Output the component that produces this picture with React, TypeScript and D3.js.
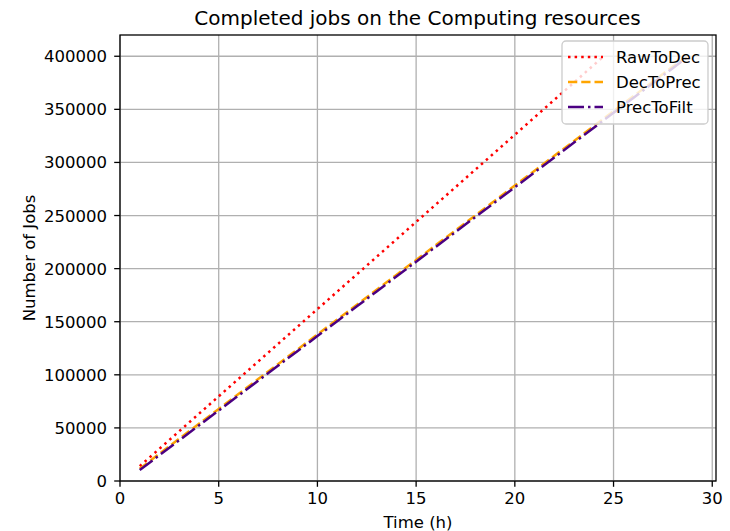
import React from "react";
import * as d3 from "d3";

const timesRaw = [1,2,3,4,5,6,7,8,9,10,11,12,13,14,15,16,17,18,19,20,21,22,23,24,24.5];
const rawToDec = [14000,30400,46850,63300,79700,96150,112550,129000,145400,161850,178250,194700,211100,227550,243950,260400,276800,293250,309650,326100,342500,358950,375350,391800,400000];

const timesPrec = [1,2,3,4,5,6,7,8,9,10,11,12,13,14,15,16,17,18,19,20,21,22,23,24,25,26,27,28,28.8];
const decToPrec = [11500,25800,39850,53900,67900,81950,95950,110000,124000,138000,152050,166050,180100,194100,208100,222150,236150,250150,264200,278200,292200,306250,320250,334300,348300,362300,376350,390350,400500];
const precToFilt = [10300,24300,38350,52350,66400,80400,94400,108450,122450,136450,150500,164500,178500,192550,206550,220550,234600,248600,262600,276650,290650,304700,318700,332700,346750,360750,374750,388800,400000];

const xTicks = [0,5,10,15,20,25,30];
const yTicks = [0,50000,100000,150000,200000,250000,300000,350000,400000];

const seriesNames = ["RawToDec","DecToPrec","PrecToFilt"];
const seriesColors = ["#ff0000","#ffa500","#4b0082"];
const seriesDash = ["2.5,4.1","9.25,4","16,4,2.5,4"];

export default function App() {
  const W = 730, H = 531;
  const L = 120, R = 716, T = 35, B = 481;
  const allT = [...timesRaw, ...timesPrec];
  const allV = [...rawToDec, ...decToPrec, ...precToFilt];
  const tMax = d3.max(allT)!, tMin = d3.min(allT)!;
  const vMax = d3.max(allV)!, vMin = d3.min(allV)!;
  const x = d3.scaleLinear().domain([0, tMax + 0.05 * (tMax - tMin)]).range([L, R]);
  const y = d3.scaleLinear().domain([0, vMax + 0.05 * (vMax - vMin)]).range([B, T]);
  const line = d3.line<[number, number]>().x(d => x(d[0])).y(d => y(d[1]));
  const series = [
    timesRaw.map((t, i) => [t, rawToDec[i]] as [number, number]),
    timesPrec.map((t, i) => [t, decToPrec[i]] as [number, number]),
    timesPrec.map((t, i) => [t, precToFilt[i]] as [number, number]),
  ];
  const font = "DejaVu Sans, sans-serif";
  const fs = 16.5;
  return (
    <svg width={W} height={H} style={{ position: "absolute", left: 0, top: 0, background: "#fff" }} fontFamily={font}>
      <rect x={0} y={0} width={W} height={H} fill="#fff" />
      {xTicks.map(t => (
        <line key={"gx" + t} x1={x(t)} x2={x(t)} y1={T} y2={B} stroke="#b0b0b0" strokeWidth={1.3} />
      ))}
      {yTicks.map(t => (
        <line key={"gy" + t} x1={L} x2={R} y1={y(t)} y2={y(t)} stroke="#b0b0b0" strokeWidth={1.3} />
      ))}
      <defs>
        <clipPath id="clip"><rect x={L} y={T} width={R - L} height={B - T} /></clipPath>
      </defs>
      <g clipPath="url(#clip)">
        {series.map((s, i) => (
          <path key={i} d={line(s)!} fill="none" stroke={seriesColors[i]} strokeWidth={2.5} strokeDasharray={seriesDash[i]} />
        ))}
      </g>
      <rect x={L} y={T} width={R - L} height={B - T} fill="none" stroke="#000" strokeWidth={1.3} />
      {xTicks.map(t => (
        <g key={"tx" + t}>
          <line x1={x(t)} x2={x(t)} y1={B} y2={B + 5.8} stroke="#000" strokeWidth={1.3} />
          <text x={x(t)} y={B + 23} textAnchor="middle" fontSize={fs} fill="#000">{t}</text>
        </g>
      ))}
      {yTicks.map(t => (
        <g key={"ty" + t}>
          <line x1={L - 5.8} x2={L} y1={y(t)} y2={y(t)} stroke="#000" strokeWidth={1.3} />
          <text x={L - 13} y={y(t) + 6} textAnchor="end" fontSize={fs} fill="#000">{t}</text>
        </g>
      ))}
      <text x={(L + R) / 2} y={528} textAnchor="middle" fontSize={fs} fill="#000">Time (h)</text>
      <text transform={`translate(35,${(T + B) / 2}) rotate(-90)`} textAnchor="middle" fontSize={fs} fill="#000">Number of Jobs</text>
      <text x={(L + R) / 2 - 0.5} y={25} textAnchor="middle" fontSize={20} fill="#000">Completed jobs on the Computing resources</text>
      <g>
        <rect x={562} y={41} width={146} height={83} rx={4} fill="#fff" fillOpacity={0.8} stroke="#cccccc" strokeWidth={1.3} />
        {seriesNames.map((n, i) => (
          <g key={n}>
            <line x1={568} x2={603} y1={57 + i * 25} y2={57 + i * 25} stroke={seriesColors[i]} strokeWidth={2.5} strokeDasharray={seriesDash[i]} />
            <text x={616} y={57 + i * 25 + 6} fontSize={fs} fill="#000">{n}</text>
          </g>
        ))}
      </g>
    </svg>
  );
}
